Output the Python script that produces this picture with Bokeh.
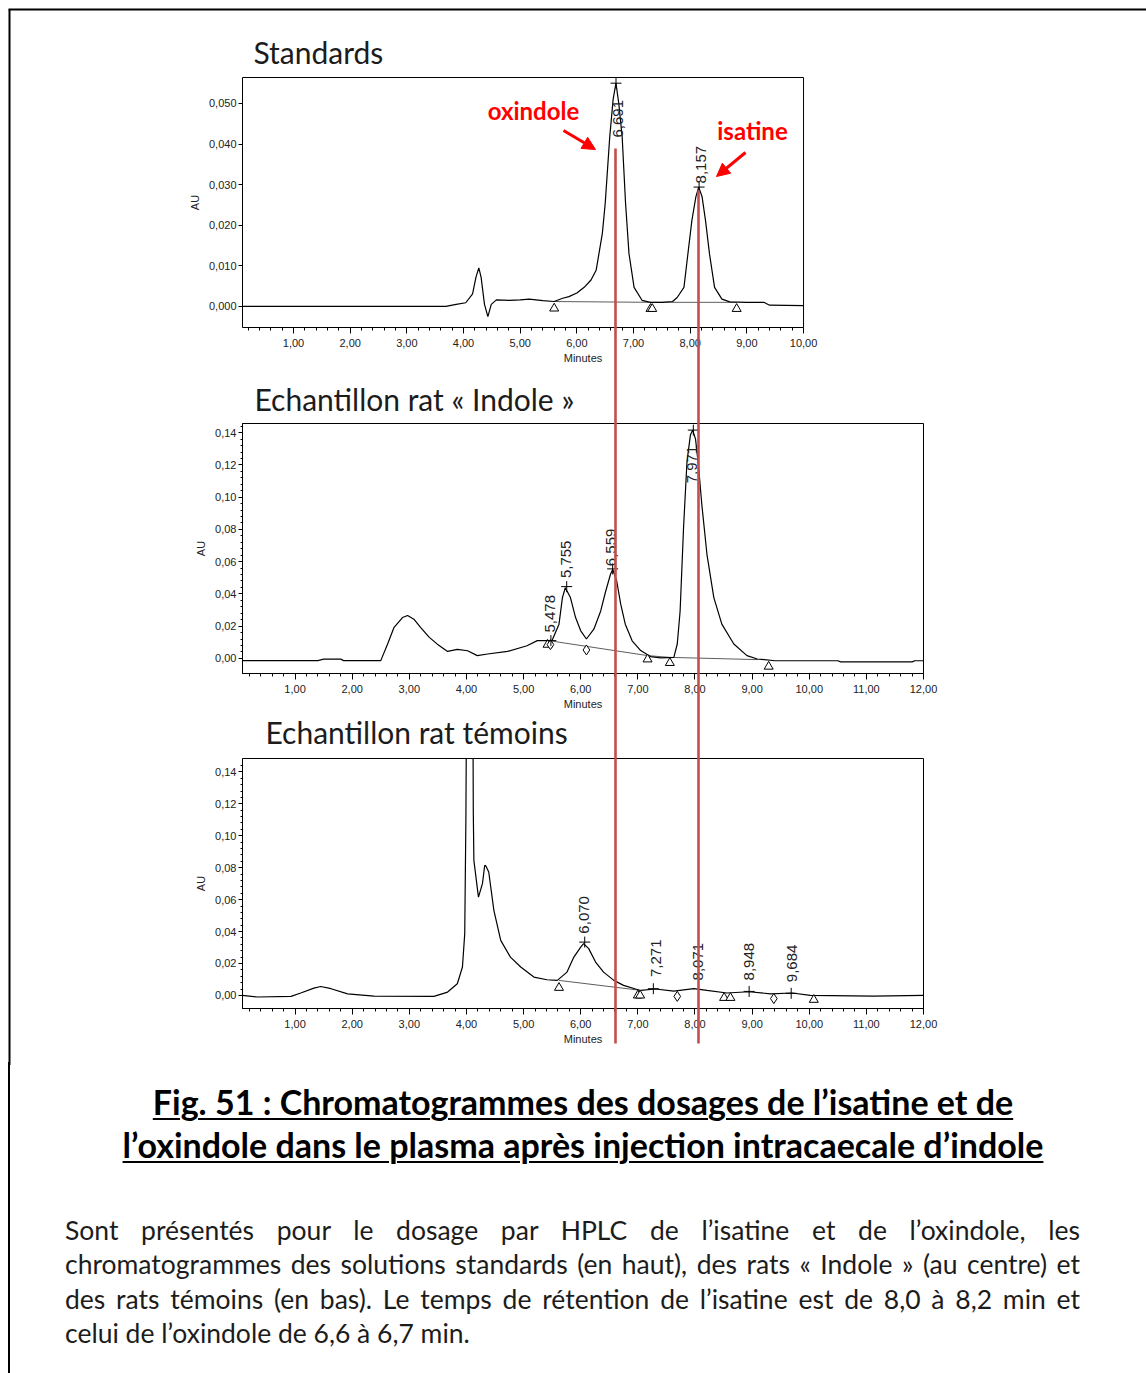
import numpy as np
from bokeh.plotting import figure
from bokeh.models import FixedTicker, Label, Arrow, NormalHead, Div, Range1d
from bokeh.layouts import column
from bokeh.embed import file_html
from bokeh.resources import INLINE
from bokeh.core.properties import value

# ---------------- DATA ----------------
# Standards chromatogram
std_time = [0.10, 3.69, 3.87, 4.04, 4.16, 4.22, 4.27, 4.31, 4.37, 4.43,
            4.49, 4.58, 4.81, 5.00, 5.16, 5.40, 5.60, 5.75, 5.86, 6.00,
            6.13, 6.25, 6.34, 6.39, 6.45, 6.50, 6.58, 6.64, 6.69, 6.74,
            6.80, 6.86, 6.92, 7.01, 7.15, 7.30, 7.50, 7.69, 7.77, 7.89,
            7.96, 8.03, 8.10, 8.15, 8.21, 8.27, 8.34, 8.43, 8.56, 8.70,
            9.00, 9.30, 9.40, 10.00]
std_au = [0.0, 0.0, 0.0005, 0.0009, 0.0031, 0.0072, 0.0095, 0.0072, 0.0005, -0.0025,
          0.0005, 0.0016, 0.0015, 0.0016, 0.0018, 0.0014, 0.0012, 0.0020, 0.0024, 0.0033,
          0.0047, 0.0065, 0.0089, 0.0130, 0.0180, 0.0253, 0.0417, 0.0510, 0.0550, 0.0500,
          0.0417, 0.0253, 0.0130, 0.0047, 0.0015, 0.0010, 0.0010, 0.0012, 0.0022, 0.0047,
          0.0130, 0.0212, 0.0270, 0.0294, 0.0270, 0.0212, 0.0130, 0.0047, 0.0018, 0.0011,
          0.0010, 0.0010, 0.0003, 0.0002]
std_base_time = [5.60, 7.31, 8.82]
std_base_au = [0.0012, 0.0010, 0.0010]
std_tri_time = [5.60, 7.30, 7.33, 8.82]
std_tri_au = [-0.0005, -0.0006, -0.0006, -0.0006]
std_peak_rt = [6.691, 8.157]
std_peak_au = [0.0550, 0.0294]
std_peak_text = ["6,691", "8,157"]

# Echantillon rat « Indole »
ind_time = [0.08, 1.40, 1.50, 1.80, 1.85, 2.50, 2.62, 2.73, 2.88, 2.97,
            3.08, 3.20, 3.35, 3.49, 3.67, 3.84, 4.02, 4.19, 4.37, 4.72,
            5.06, 5.24, 5.41, 5.50, 5.62, 5.68, 5.73, 5.82, 5.91, 6.00,
            6.10, 6.23, 6.35, 6.43, 6.52, 6.56, 6.63, 6.70, 6.78, 6.90,
            7.05, 7.22, 7.40, 7.63, 7.69, 7.74, 7.80, 7.86, 7.92, 7.96,
            8.01, 8.06, 8.12, 8.21, 8.33, 8.47, 8.68, 8.91, 9.09, 9.40,
            10.0, 10.5, 10.55, 11.0, 11.8, 11.85, 12.0]
ind_au = [-0.0014, -0.0014, -0.0005, -0.0005, -0.0014, -0.0014, 0.0089, 0.0190, 0.0253, 0.0266,
          0.0243, 0.0191, 0.0130, 0.0088, 0.0043, 0.0056, 0.0047, 0.0017, 0.0027, 0.0043,
          0.0078, 0.0110, 0.0110, 0.0112, 0.0212, 0.0377, 0.0438, 0.0377, 0.0253, 0.0171,
          0.0120, 0.0181, 0.0294, 0.0407, 0.0520, 0.0552, 0.0480, 0.0336, 0.0212, 0.0109,
          0.0048, 0.0011, 0.0003, 0.0006, 0.0089, 0.0294, 0.0810, 0.1220, 0.1385, 0.1416,
          0.1360, 0.1200, 0.0953, 0.0644, 0.0377, 0.0212, 0.0089, 0.0017, -0.0004, -0.0015,
          -0.0015, -0.0015, -0.0022, -0.0022, -0.0022, -0.0015, -0.0015]
ind_base_time = [5.40, 7.17, 7.56, 9.10]
ind_base_au = [0.0112, 0.0017, 0.0006, -0.0008]
ind_tri_time = [5.42, 7.17, 7.56, 9.29]
ind_tri_au = [0.0085, -0.0006, -0.0028, -0.0051]
ind_dia_time = [5.47, 6.10]
ind_dia_au = [0.0085, 0.0052]
ind_peak_rt = [5.478, 5.755, 6.559, 7.971]
ind_peak_au = [0.0110, 0.0445, 0.0555, 0.1416]
ind_peak_text = ["5,478", "5,755", "6,559", "7,971"]

# Echantillon rat témoins
tem_time = [0.08, 0.34, 0.93, 1.10, 1.33, 1.45, 1.63, 1.92, 2.38, 3.43,
            3.67, 3.84, 3.93, 3.97, 3.99, 4.02, 4.10, 4.12, 4.13, 4.21,
            4.28, 4.32, 4.34, 4.39, 4.48, 4.60, 4.77, 4.95, 5.18, 5.41,
            5.59, 5.76, 5.88, 6.00, 6.05, 6.14, 6.26, 6.40, 6.58, 6.75,
            6.96, 7.05, 7.31, 7.63, 7.98, 8.21, 8.56, 8.94, 9.32, 9.70,
            10.02, 11.12, 12.0]
tem_au = [0.0, -0.0010, -0.0006, 0.0015, 0.0046, 0.0056, 0.0042, 0.0010, -0.0004, -0.0006,
          0.0021, 0.0073, 0.0178, 0.0387, 0.1100, 0.3000, 0.3000, 0.1140, 0.0846, 0.0616,
          0.0700, 0.0815, 0.0810, 0.0773, 0.0533, 0.0345, 0.0240, 0.0178, 0.0115, 0.0098,
          0.0094, 0.0146, 0.0240, 0.0303, 0.0324, 0.0293, 0.0209, 0.0146, 0.0094, 0.0063,
          0.0040, 0.0031, 0.0040, 0.0027, 0.0042, 0.0031, 0.0015, 0.0023, 0.0010, 0.0015,
          0.0, -0.0004, 0.0]
tem_base_time = [5.62, 7.02]
tem_base_au = [0.0094, 0.0033]
tem_tri_time = [5.62, 7.00, 7.04, 8.51, 8.62, 10.08]
tem_tri_au = [0.0048, 0.0, 0.0, -0.0015, -0.0015, -0.0027]
tem_dia_time = [7.69, 9.38]
tem_dia_au = [-0.0006, -0.0020]
tem_cross_rt = [6.070, 7.271, 8.948, 9.684]
tem_cross_au = [0.0334, 0.0042, 0.0025, 0.0013]
tem_peak_rt = [6.070, 7.271, 8.071, 8.948, 9.684]
tem_peak_text = ["6,070", "7,271", "8,071", "8,948", "9,684"]

# ticks
std_xticks = [1, 2, 3, 4, 5, 6, 7, 8, 9, 10]
std_xlabels = ["1,00", "2,00", "3,00", "4,00", "5,00", "6,00", "7,00", "8,00", "9,00", "10,00"]
std_yticks = [0.0, 0.01, 0.02, 0.03, 0.04, 0.05]
std_ylabels = ["0,000", "0,010", "0,020", "0,030", "0,040", "0,050"]
rat_xticks = [1, 2, 3, 4, 5, 6, 7, 8, 9, 10, 11, 12]
rat_xlabels = ["1,00", "2,00", "3,00", "4,00", "5,00", "6,00", "7,00", "8,00",
               "9,00", "10,00", "11,00", "12,00"]
rat_yticks = [0.0, 0.02, 0.04, 0.06, 0.08, 0.1, 0.12, 0.14]
rat_ylabels = ["0,00", "0,02", "0,04", "0,06", "0,08", "0,10", "0,12", "0,14"]

# ---------------- STYLE / LAYOUT ----------------
PAGE_W = 1146
F_LEFT = 242
F_W = 681
AX_FONT = "Liberation Sans"
TXT_FONT = "Lato"
RED_LINE = "#c0504d"
INK = "#1c1c1c"


def frame_fig(page_top, height, f_top, f_h, xr, yr):
    p = figure(width=PAGE_W, height=height,
               x_range=Range1d(*xr), y_range=Range1d(*yr),
               output_backend="svg", toolbar_location=None,
               min_border_left=F_LEFT,
               min_border_right=PAGE_W - F_LEFT - F_W,
               min_border_top=f_top - page_top,
               min_border_bottom=height - (f_top - page_top) - f_h)
    p.grid.visible = False
    p.outline_line_color = "black"
    p.outline_line_width = 1
    p.outline_line_alpha = 1
    p.background_fill_color = "white"
    p.border_fill_color = "white"
    sx = (xr[1] - xr[0]) / F_W
    sy = (yr[1] - yr[0]) / f_h

    def dx(px):
        return xr[0] + (px - F_LEFT) * sx

    def dy(py):
        return yr[1] - (py - f_top) * sy
    return p, dx, dy


def style_axes(p, xt, xl, yt, yl, x_max, y_minor):
    x_minor = [round(0.2 * i, 1) for i in range(1, int(x_max * 5) + 1) if (i % 5) != 0]
    p.xaxis.ticker = FixedTicker(ticks=xt, minor_ticks=x_minor)
    p.xaxis.major_label_overrides = dict(zip(xt, xl))
    p.yaxis.ticker = FixedTicker(ticks=yt, minor_ticks=y_minor)
    p.yaxis.major_label_overrides = dict(zip(yt, yl))
    for ax in (p.xaxis, p.yaxis):
        ax.axis_line_color = "black"
        ax.major_tick_line_color = "black"
        ax.minor_tick_line_color = "black"
        ax.major_tick_in = 0
        ax.minor_tick_in = 0
        ax.major_label_text_font = AX_FONT
        ax.major_label_text_font_size = "11px"
        ax.major_label_text_color = "#222222"
        ax.axis_label_text_font = AX_FONT
        ax.axis_label_text_font_size = "11px"
        ax.axis_label_text_font_style = "normal"
        ax.axis_label_text_color = "#222222"
    p.xaxis.major_tick_out = 6
    p.xaxis.minor_tick_out = 3
    p.yaxis.major_tick_out = 4
    p.yaxis.minor_tick_out = 2
    p.xaxis.major_label_standoff = 5
    p.xaxis.axis_label_standoff = 2
    p.yaxis.major_label_standoff = 2
    p.yaxis.axis_label_standoff = 5
    p.xaxis.axis_label = "Minutes"
    p.yaxis.axis_label = "AU"


def trace(p, t, au, bt, bau):
    p.line(bt, bau, line_color="#333333", line_width=0.8)
    p.line(t, au, line_color="black", line_width=1.2)


def markers(p, tri_t, tri_au, dia_t=None, dia_au=None, cr_t=None, cr_au=None):
    p.scatter(tri_t, tri_au, marker="triangle", size=9, fill_color="white",
              line_color="black", line_width=1)
    if dia_t:
        p.scatter(dia_t, dia_au, marker="diamond", size=10, fill_color="white",
                  line_color="black", line_width=1)
    if cr_t:
        p.scatter(cr_t, cr_au, marker="cross", size=11, line_color="black", line_width=1)


def peak_labels(p, xs, ys, texts):
    p.text(x=xs, y=ys, text=texts, angle=np.pi / 2, text_align="left",
           text_baseline="middle", text_font=value(AX_FONT), text_font_size="15px",
           text_color="#222222")


def page_edges(p, dx, dy, top_px=-50):
    p.segment(x0=[dx(9)], y0=[dy(top_px)], x1=[dx(9)], y1=[dy(2000)],
              line_color="black", line_width=2, level="overlay")


def red_lines(p, dx, dy, xs_px, tops_px, bottom_px):
    p.segment(x0=[dx(x) for x in xs_px], y0=[dy(t) for t in tops_px],
              x1=[dx(x) for x in xs_px], y1=[dy(bottom_px)] * len(xs_px),
              line_color=RED_LINE, line_width=2.6, level="overlay")


def title(p, dx, dy, x_px, base_px, text):
    p.text(x=[dx(x_px)], y=[dy(base_px)], text=[text], text_font=value(TXT_FONT),
           text_font_size="30px", text_color=INK, text_align="left",
           text_baseline="alphabetic", level="overlay")


# ---- Figure 1 : Standards ----
std_xr = (0.1, 0.1 + F_W / 56.67)
std_yr = (-0.0052, 0.0564)
p1, dx1, dy1 = frame_fig(0, 380, 77, 250, std_xr, std_yr)
style_axes(p1, std_xticks, std_xlabels, std_yticks, std_ylabels, 10, [])
p1.xaxis.bounds = (0.1, 10.0)
p1.outline_line_color = None
p1.segment(x0=[0.1, 10.0], y0=[std_yr[1], std_yr[0]], x1=[10.0, 10.0],
           y1=[std_yr[1], std_yr[1]], line_color="black", line_width=1, level="overlay")
trace(p1, std_time, std_au, std_base_time, std_base_au)
markers(p1, std_tri_time, std_tri_au, cr_t=std_peak_rt, cr_au=std_peak_au)
peak_labels(p1, [6.727, 8.185], [0.0416, 0.0303], std_peak_text)
title(p1, dx1, dy1, 253, 51, "Standards")
p1.add_layout(Label(x=dx1(533), y=dy1(110), text="oxindole", text_font=TXT_FONT,
                    text_font_size="24px", text_font_style="bold", text_color="#ff0000",
                    text_align="center", text_baseline="middle"))
p1.add_layout(Label(x=dx1(752), y=dy1(130), text="isatine", text_font=TXT_FONT,
                    text_font_size="24px", text_font_style="bold", text_color="#ff0000",
                    text_align="center", text_baseline="middle"))
p1.add_layout(Arrow(end=NormalHead(size=13, fill_color="#ff0000", line_color="#ff0000"),
                    x_start=dx1(563), y_start=dy1(130), x_end=dx1(595), y_end=dy1(149),
                    line_color="#ff0000", line_width=3))
p1.add_layout(Arrow(end=NormalHead(size=13, fill_color="#ff0000", line_color="#ff0000"),
                    x_start=dx1(745), y_start=dy1(152), x_end=dx1(716), y_end=dy1(176),
                    line_color="#ff0000", line_width=3))
red_lines(p1, dx1, dy1, [615, 698], [148, 190], 500)
page_edges(p1, dx1, dy1, top_px=9)
p1.segment(x0=[dx1(8)], y0=[dy1(9)], x1=[dx1(1200)], y1=[dy1(9)],
           line_color="black", line_width=2, level="overlay")

# ---- Figure 2 : Echantillon rat « Indole » ----
rat_minor = [round(0.004 * i, 3) for i in range(1, 37) if i % 5 != 0]
p2, dx2, dy2 = frame_fig(380, 335, 423, 250, (0.08, 12.0), (-0.0094, 0.1457))
style_axes(p2, rat_xticks, rat_xlabels, rat_yticks, rat_ylabels, 12, rat_minor)
trace(p2, ind_time, ind_au, ind_base_time, ind_base_au)
markers(p2, ind_tri_time, ind_tri_au, ind_dia_time, ind_dia_au, ind_peak_rt, ind_peak_au)
peak_labels(p2, [5.47, 5.734, 6.53, 7.94], [0.016, 0.0498, 0.0572, 0.1086], ind_peak_text)
title(p2, dx2, dy2, 254, 398, "Echantillon rat « Indole »")
red_lines(p2, dx2, dy2, [615, 698], [300, 300], 800)
page_edges(p2, dx2, dy2)

# ---- Figure 3 : Echantillon rat témoins ----
p3, dx3, dy3 = frame_fig(715, 350, 758, 250, (0.08, 12.0), (-0.0082, 0.1484))
style_axes(p3, rat_xticks, rat_xlabels, rat_yticks, rat_ylabels, 12, rat_minor)
trace(p3, tem_time, tem_au, tem_base_time, tem_base_au)
markers(p3, tem_tri_time, tem_tri_au, tem_dia_time, tem_dia_au, tem_cross_rt, tem_cross_au)
peak_labels(p3, [6.05, 7.31, 8.06, 8.95, 9.70], [0.0387, 0.0115, 0.0094, 0.0094, 0.0083],
            tem_peak_text)
title(p3, dx3, dy3, 265, 731, "Echantillon rat témoins")
red_lines(p3, dx3, dy3, [615, 698], [600, 600], 1043)
page_edges(p3, dx3, dy3)

# ---- Caption and paragraph ----
caption_lines = ["Fig. 51 : Chromatogrammes des dosages de l’isatine et de",
                 "l’oxindole dans le plasma après injection intracaecale d’indole"]
para_lines = ["Sont présentés pour le dosage par HPLC de l’isatine et de l’oxindole, les",
              "chromatogrammes des solutions standards (en haut), des rats « Indole » (au centre) et",
              "des rats témoins (en bas). Le temps de rétention de l’isatine est de 8,0 à 8,2 min et",
              "celui de l’oxindole de 6,6 à 6,7 min."]

cap_html = "<br>".join(caption_lines)
para_html = ""
for i, ln in enumerate(para_lines):
    last = i == len(para_lines) - 1
    align = "text-align:left;" if last else "text-align:justify;text-align-last:justify;"
    para_html += f'<div style="{align}height:34.3px;line-height:34.3px;white-space:nowrap;">{ln}</div>'

html = f'''
<div style="position:relative;width:1146px;height:308px;background:#fff;font-family:Lato;">
  <div style="position:absolute;left:3px;top:-8px;width:2px;height:316px;background:#000;"></div>
  <div style="position:absolute;left:15px;width:1126px;top:10px;text-align:center;font-weight:bold;
       font-size:34px;line-height:43px;color:#000;text-decoration:underline;
       text-decoration-thickness:2px;text-underline-offset:3px;white-space:nowrap;">{cap_html}</div>
  <div style="position:absolute;left:60px;width:1015px;top:143px;font-size:26.5px;color:{INK};">{para_html}</div>
</div>
'''
div = Div(text=html, width=PAGE_W, height=308)

layout = column(p1, p2, p3, div, spacing=0)
open("out.html", "w").write(file_html(layout, INLINE))
